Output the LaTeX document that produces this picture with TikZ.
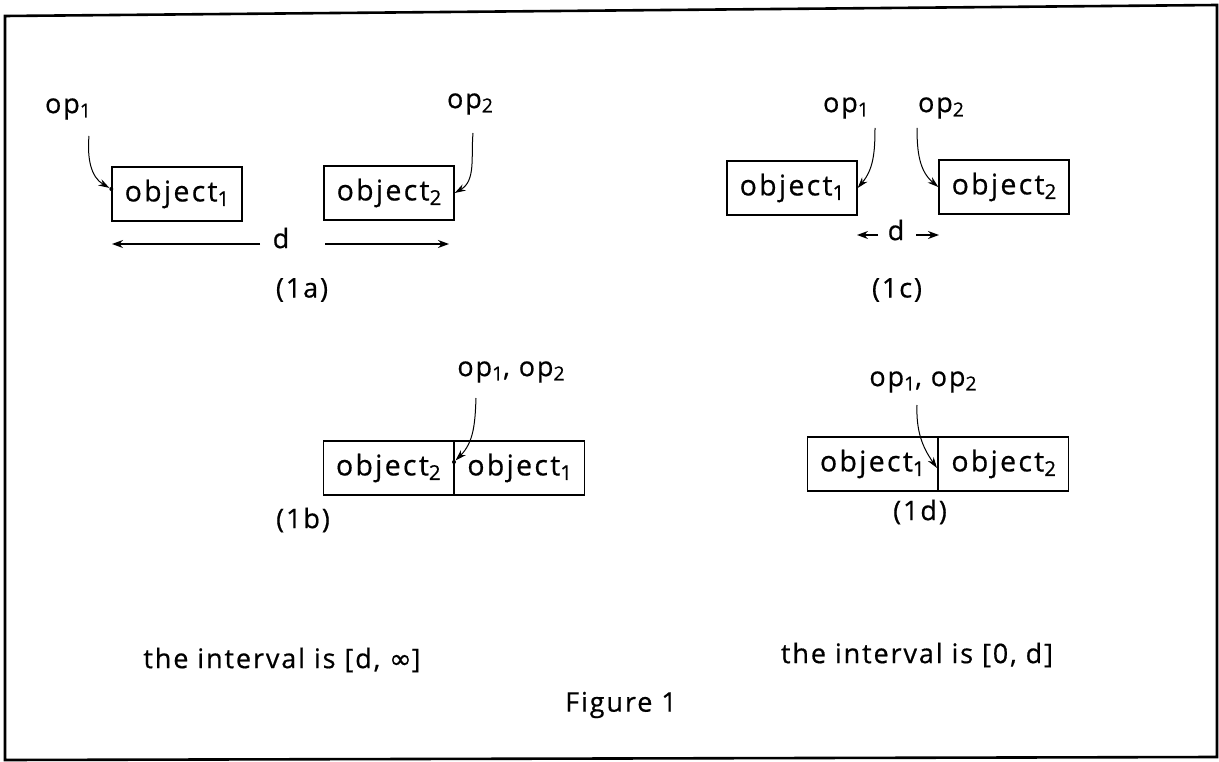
\documentclass[tikz,border=0pt]{standalone}
\usepackage{fontspec}
\setmainfont{Open Sans}[LetterSpace=7, FakeBold=0.6]
\newfontfamily\symfont{DejaVu Sans}[FakeBold=0.6]
\usetikzlibrary{arrows.meta}
\newcommand{\idx}[1]{\raisebox{-0.3ex}{\fontsize{0.72em}{1em}\selectfont #1}}
\begin{document}
\begin{tikzpicture}[x=1pt,y=-1pt,
  every node/.style={font=\fontsize{27}{30}\selectfont, inner sep=0pt},
  objbox/.style={draw, line width=1.4pt, minimum width=130pt, minimum height=54pt,
    font=\fontsize{28.5}{30}\selectfont\addfontfeatures{LetterSpace=8}},
  pointer/.style={line width=1pt, -{Stealth[length=11pt,width=7pt]}},
  spread/.style={line width=1.2pt, -{Stealth[length=11pt,width=8pt]}},
  pin/.style={fill, circle, minimum size=4pt, inner sep=0pt}]
\useasboundingbox (0,0) rectangle (1219,762);
% outer frame
\draw[line width=2.6pt] (5,16) -- (1217,5) -- (1217,757) -- (5,760) -- cycle;

% (1a)
\node (a-op1) at (68,109) {op\idx{1}};
\node (a-op2) at (470,104) {op\idx{2}};
\node[objbox] (a-obj1) at (177,194) {object\idx{1}};
\node[objbox] (a-obj2) at (389,193) {object\idx{2}};
\node[pin] (a-pin) at (a-obj1.west |- 0,189) {};
\draw[pointer] (89,136) to[out=-95,in=150] (a-pin);
\draw[pointer] (473,133) to[out=-95,in=30] (a-obj2.east);
\node (a-d) at (281,238) {d};
\coordinate (a-l) at (112,244);
\coordinate (a-r) at (449,244);
\coordinate (a-ls) at (260,244);
\coordinate (a-rs) at (325,244);
\draw[spread] (a-ls) -- (a-l);
\draw[spread] (a-rs) -- (a-r);
\node (a-cap) at (302,290) {(1a)};

% (1c)
\node (c-op1) at (846,108) {op\idx{1}};
\node (c-op2) at (941,108) {op\idx{2}};
\node[objbox] (c-obj1) at (792,188) {object\idx{1}};
\node[objbox] (c-obj2) at (1004,187) {object\idx{2}};
\draw[pointer] (875,128) to[out=-90,in=50] (c-obj1.east);
\draw[pointer] (917,128) to[out=-90,in=140] (c-obj2.west);
\node (c-d) at (896,230) {d};
\coordinate (c-l) at (857,235);
\coordinate (c-r) at (939,235);
\coordinate (c-ls) at (878,235);
\coordinate (c-rs) at (916,235);
\draw[spread] (c-ls) -- (c-l);
\draw[spread] (c-rs) -- (c-r);
\node (c-cap) at (897,290) {(1c)};

% (1b)
\node (b-op) at (511,372) {op\idx{1}, op\idx{2}};
\node[objbox, anchor=east] (b-obj2) at (454,468) {object\idx{2}};
\node[objbox, anchor=west] (b-obj1) at (454,468) {object\idx{1}};
\node[pin] (b-pin) at (454,462) {};
\coordinate (b-start) at (476,398);
\draw[pointer] (b-start) to[out=-92,in=45] (b-pin);
\node (b-cap) at (303,520) {(1b)};

% (1d)
\node (d-op) at (923,382) {op\idx{1}, op\idx{2}};
\node[objbox, anchor=east] (d-obj1) at (938,464) {object\idx{1}};
\node[objbox, anchor=west] (d-obj2) at (938,464) {object\idx{2}};
\coordinate (d-start) at (917,405);
\coordinate (d-tip) at (937,468);
\draw[pointer] (d-start) to[out=-92,in=125] (d-tip);
\node (d-cap) at (920,512) {(1d)};

% conclusions
\node (b-int) at (282,660) {the interval is [d, {\symfont ∞}]};
\node (d-int) at (917,655) {the interval is [0, d]};
\node (fig) at (621,705) {Figure 1};
\end{tikzpicture}
\end{document}
